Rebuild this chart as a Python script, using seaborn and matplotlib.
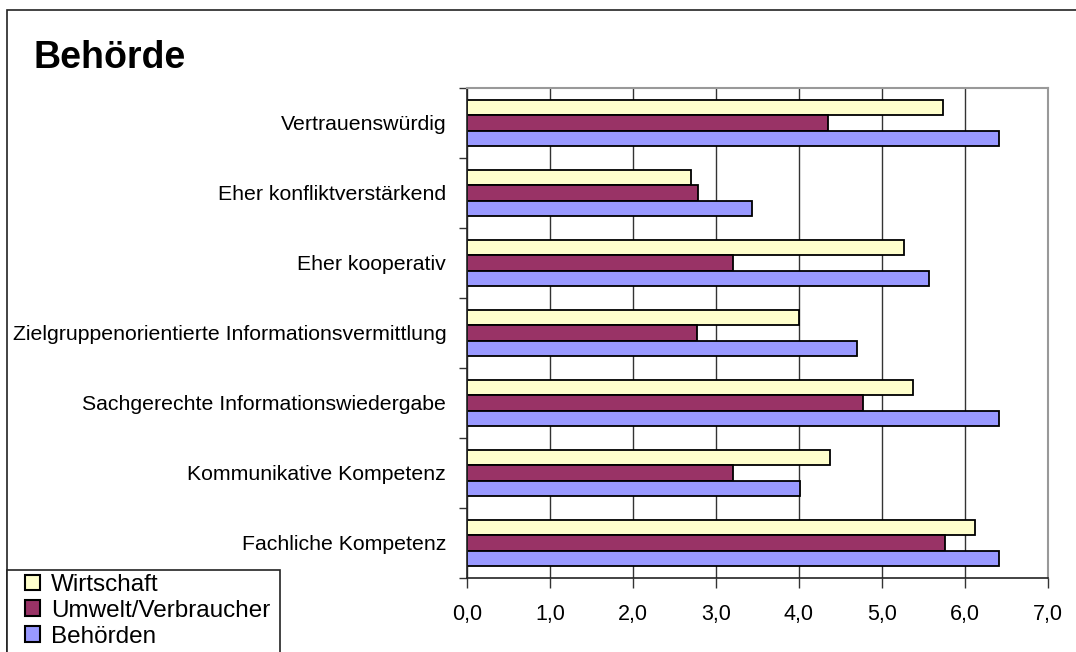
import matplotlib
matplotlib.use('Agg')
import matplotlib.pyplot as plt
import seaborn as sns
import pandas as pd
from matplotlib.patches import Rectangle, Patch
from matplotlib.ticker import FixedLocator

categories = ["Vertrauenswürdig", "Eher konfliktverstärkend", "Eher kooperativ",
              "Zielgruppenorientierte Informationsvermittlung",
              "Sachgerechte Informationswiedergabe",
              "Kommunikative Kompetenz", "Fachliche Kompetenz"]
series = ["Wirtschaft", "Umwelt/Verbraucher", "Behörden"]
wirtschaft = [5.74, 2.70, 5.26, 4.00, 5.37, 4.37, 6.12]
umwelt = [4.35, 2.78, 3.21, 2.77, 4.77, 3.21, 5.76]
behoerden = [6.41, 3.43, 5.57, 4.70, 6.41, 4.01, 6.41]
x_ticks = [0, 1, 2, 3, 4, 5, 6, 7]
x_labels = ["0,0", "1,0", "2,0", "3,0", "4,0", "5,0", "6,0", "7,0"]
title = "Behörde"
colors = ["#FFFFCC", "#993366", "#9999FF"]

rows = []
for s, vals in zip(series, [wirtschaft, umwelt, behoerden]):
    for c, v in zip(categories, vals):
        rows.append({"Kategorie": c, "Serie": s, "Wert": v})
df = pd.DataFrame(rows)

sns.set_style("white")
plt.rcParams['font.family'] = ['Liberation Sans', 'DejaVu Sans']
plt.rcParams['text.color'] = 'black'
plt.rcParams['xtick.labelcolor'] = 'black'
plt.rcParams['ytick.labelcolor'] = 'black'

W, H = 1076, 652
fig = plt.figure(figsize=(W / 100, H / 100), dpi=100)
L, R, T, B = 467, 1048, 88, 578
ax = fig.add_axes([L / W, 1 - B / H, (R - L) / W, (B - T) / H])

sns.barplot(data=df, y="Kategorie", x="Wert", hue="Serie", order=categories,
            hue_order=series, palette=colors, orient="h", width=0.655,
            edgecolor="black", linewidth=1.3, ax=ax, legend=False, saturation=1)

ax.set_xlim(0, 7)
ax.set_ylim(6.5, -0.5)
ax.set_xticks(x_ticks)
ax.set_xticklabels(x_labels, fontsize=15.5, color='black')
ax.set_xlabel("")
ax.set_ylabel("")
ax.tick_params(axis='x', direction='out', length=7, width=1, color='#333333', pad=12)
ax.tick_params(axis='y', which='major', length=0, pad=15, labelsize=15.3, labelcolor='black')
ax.yaxis.set_minor_locator(FixedLocator([i - 0.5 for i in range(len(categories) + 1)]))
ax.tick_params(axis='y', which='minor', direction='out', length=6, width=1, color='#333333', left=True)
ax.tick_params(axis='x', bottom=True)

ax.grid(axis='x', color='#333333', linewidth=1)
ax.grid(axis='y', visible=False)
ax.set_axisbelow(True)
for side in ['left', 'bottom']:
    ax.spines[side].set_color('#222222')
    ax.spines[side].set_linewidth(1.2)
for side in ['top', 'right']:
    ax.spines[side].set_visible(True)
    ax.spines[side].set_color('#999999')
    ax.spines[side].set_linewidth(1.5)

fig.text(33 / W, 1 - 58 / H, title, fontsize=27, fontweight='bold', va='center', ha='left',
         color='black')

# figure frame
fig.patches.append(Rectangle((7 / W, -0.05), 1.1, 1 - 10 / H + 0.05, transform=fig.transFigure,
                             fill=False, edgecolor='#222222', linewidth=1.2))
# legend frame
fig.patches.append(Rectangle((7 / W, -0.05), (280 - 7) / W, 1 - 570 / H + 0.05,
                             transform=fig.transFigure, fill=True, facecolor='white',
                             edgecolor='#222222', linewidth=1.2, zorder=3))

handles = [Patch(facecolor=c, edgecolor='black', linewidth=1.5, label=s) for c, s in zip(colors, series)]
leg = fig.legend(handles=handles, loc='upper left', bbox_to_anchor=(25 / W, 1 - 574 / H),
                 fontsize=17.5, frameon=False,
                 handlelength=0.62, handleheight=0.62, handletextpad=0.45, labelspacing=0.16,
                 borderpad=0, borderaxespad=0)
leg.set_zorder(4)
for t in leg.get_texts():
    t.set_color('black')

fig.savefig("out.png", dpi=100, facecolor='white')
